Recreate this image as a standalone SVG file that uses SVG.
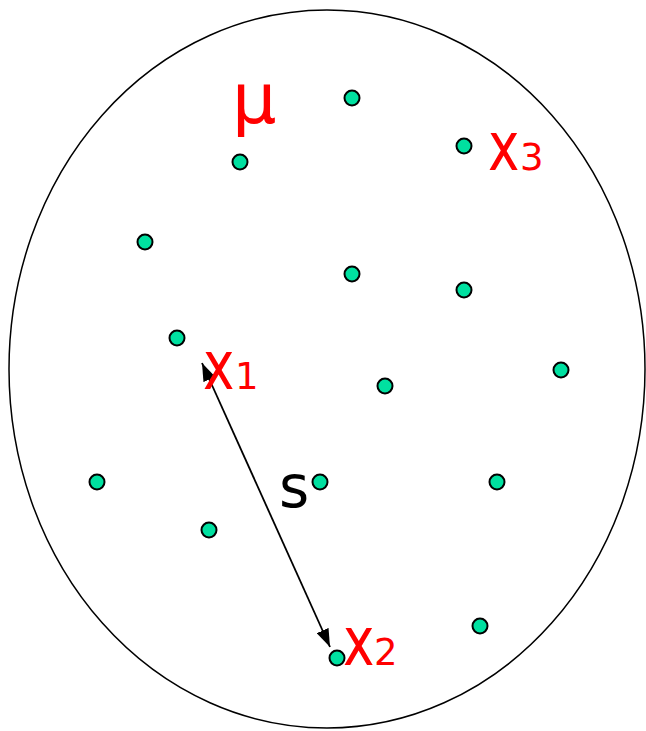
<svg xmlns="http://www.w3.org/2000/svg" width="646" height="731" viewBox="0 0 646 731">
<style>
.dot{fill:#00e0a0;stroke:#000;stroke-width:2}
.lbl{fill:#ff0000;font-family:"DejaVu Sans",Verdana,sans-serif}
.big{font-size:68px}
.sub{font-size:37px}
</style>
<defs>
<marker id="ah" viewBox="0 0 18 13" refX="18" refY="6.5" markerWidth="18" markerHeight="13" markerUnits="userSpaceOnUse" orient="auto-start-reverse">
<path d="M0,0 L18,6.5 L0,13 Z" fill="#000"/>
</marker>
</defs>
<rect width="646" height="731" fill="#fff"/>
<g id="region">
<ellipse cx="327" cy="369" rx="318" ry="359" fill="none" stroke="#000" stroke-width="1.5"/>
</g>
<g id="connectors">
<line x1="202" y1="363" x2="330" y2="647" stroke="#000" stroke-width="1.8" marker-start="url(#ah)" marker-end="url(#ah)"/>
</g>
<g id="points">
<circle class="dot" cx="352" cy="98" r="7.5"/>
<circle class="dot" cx="240" cy="162" r="7.5"/>
<circle class="dot" cx="464" cy="146" r="7.5"/>
<circle class="dot" cx="145" cy="242" r="7.5"/>
<circle class="dot" cx="352" cy="274" r="7.5"/>
<circle class="dot" cx="464" cy="290" r="7.5"/>
<circle class="dot" cx="177" cy="338" r="7.5"/>
<circle class="dot" cx="385" cy="386" r="7.5"/>
<circle class="dot" cx="561" cy="370" r="7.5"/>
<circle class="dot" cx="97" cy="482" r="7.5"/>
<circle class="dot" cx="320" cy="482" r="7.5"/>
<circle class="dot" cx="497" cy="482" r="7.5"/>
<circle class="dot" cx="209" cy="530" r="7.5"/>
<circle class="dot" cx="480" cy="626" r="7.5"/>
<circle class="dot" cx="337" cy="658" r="7.5"/>
</g>
<g id="mu"><text class="lbl" x="232" y="123" font-size="70">μ</text></g>
<g id="x1"><text class="lbl big" transform="translate(203,389) scale(0.78,1)">x</text><text class="lbl sub" x="235" y="389">1</text></g>
<g id="x2"><text class="lbl big" transform="translate(343,665) scale(0.78,1)">x</text><text class="lbl sub" x="374" y="665">2</text></g>
<g id="x3"><text class="lbl big" transform="translate(488,170) scale(0.78,1)">x</text><text class="lbl sub" x="520" y="170">3</text></g>
<g id="s"><text x="279" y="507" font-size="58" font-family="DejaVu Sans,Verdana,sans-serif" fill="#000">s</text></g>
</svg>
